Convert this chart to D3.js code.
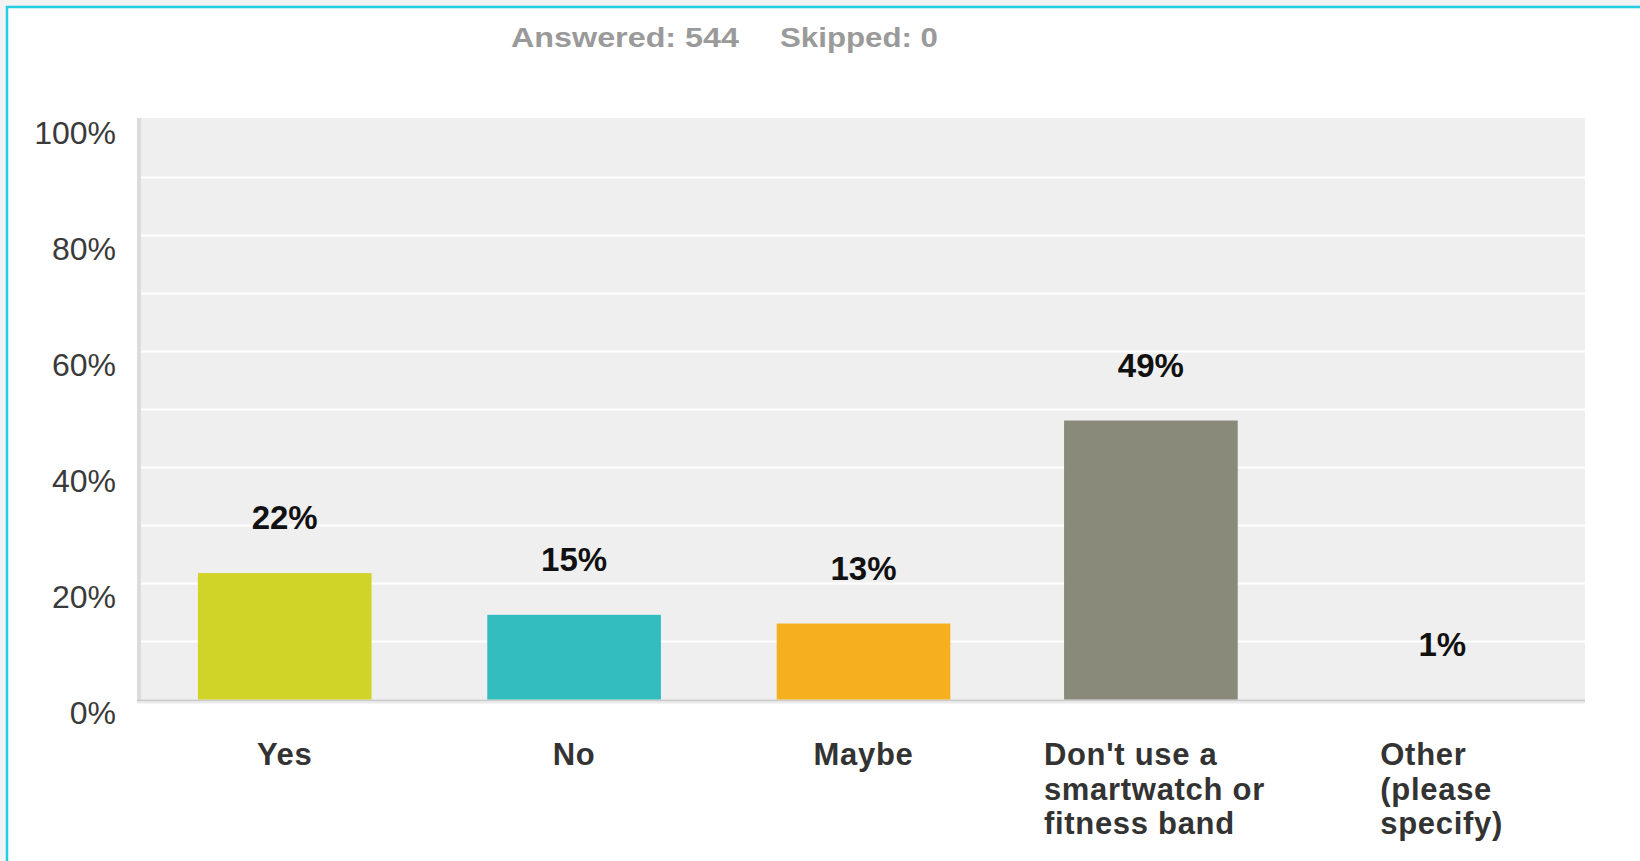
<!DOCTYPE html>
<html>
<head>
<meta charset="utf-8">
<script src="https://cdn.jsdelivr.net/npm/d3@7"></script>
<style>
  html, body { margin: 0; padding: 0; background: #f3f3f3; }
  svg { display: block; }
</style>
</head>
<body>
<svg id="chart" width="1640" height="861"></svg>
<script>
// survey answers
const categories = ["Yes", "No", "Maybe", "Don't use a smartwatch or fitness band", "Other (please specify)"]
const catLines = [["Yes"], ["No"], ["Maybe"], ["Don't use a", "smartwatch or", "fitness band"], ["Other", "(please", "specify)"]]
const values = [21.8, 14.6, 13.1, 48.1, 0]
const valueLabels = ["22%", "15%", "13%", "49%", "1%"]
const barColors = ["#d0d429", "#33bdbf", "#f6af1f", "#8a8a7a", "#b8b8b8"]
const yTicks = [0, 20, 40, 60, 80, 100]
const gridTicks = [10, 20, 30, 40, 50, 60, 70, 80, 90]

const svg = d3.select("#chart")

// white panel with the cyan frame
svg.append("rect")
    .attr("x", 7).attr("y", 7)
    .attr("width", 1640).attr("height", 861)
    .attr("fill", "white")
svg.append("path")
    .attr("d", "M7,861 V7 H1640")
    .attr("fill", "none")
    .attr("stroke", "#22cfe2")
    .attr("stroke-width", 2.5)

// header
const header = svg.append("g")
    .attr("font-family", "Liberation Sans, Arial, sans-serif")
    .attr("font-weight", "bold")
    .attr("font-size", 27)
    .attr("fill", "#9a9a9a")
header.append("text")
    .attr("x", 511).attr("y", 47)
    .attr("textLength", 228).attr("lengthAdjust", "spacingAndGlyphs")
    .text("Answered: 544")
header.append("text")
    .attr("x", 780).attr("y", 47)
    .attr("textLength", 158).attr("lengthAdjust", "spacingAndGlyphs")
    .text("Skipped: 0")

const plot = { left: 138, right: 1585, top: 119, bottom: 699.5 }

var x = d3.scaleBand()
    .domain(categories)
    .range([plot.left + 2, plot.right + 2])
    .paddingInner(0.4)
    .paddingOuter(0.2)

var y = d3.scaleLinear()
    .domain([0, 100])
    .range([plot.bottom, plot.top + 0.5])

// plot background
svg.append("rect")
    .attr("x", plot.left).attr("y", plot.top - 1)
    .attr("width", plot.right - plot.left)
    .attr("height", plot.bottom - plot.top + 1)
    .attr("fill", "#efefef")

// grid lines
svg.append("g")
    .selectAll("line")
    .data(gridTicks)
    .enter()
    .append("line")
        .attr("x1", plot.left).attr("x2", plot.right)
        .attr("y1", d => y(d)).attr("y2", d => y(d))
        .attr("stroke", "white")
        .attr("stroke-width", 2)

// left edge and baseline
svg.append("rect")
    .attr("x", plot.left - 1).attr("y", plot.top - 1)
    .attr("width", 4).attr("height", plot.bottom - plot.top + 3)
    .attr("fill", "#dcdcdc")
svg.append("rect")
    .attr("x", plot.left - 1).attr("y", plot.bottom)
    .attr("width", plot.right - plot.left + 1).attr("height", 2)
    .attr("fill", "#cbcbcb")
svg.append("rect")
    .attr("x", plot.left - 1).attr("y", plot.bottom + 2)
    .attr("width", plot.right - plot.left + 1).attr("height", 2)
    .attr("fill", "#eaeaea")

// y axis, labels sit a little below their grid line
const yAxis = svg.append("g")
    .attr("transform", `translate(${plot.left - 22},0)`)
    .call(d3.axisLeft(y).tickValues(yTicks).tickFormat(d => d + "%").tickSize(0).tickPadding(0))
yAxis.select(".domain").remove()
yAxis.selectAll("text")
    .attr("dy", 24)
    .attr("font-family", "Liberation Sans, Arial, sans-serif")
    .attr("font-size", 32)
    .attr("fill", "#3a3a3a")

// bars (the fourth one sits a touch left in the original)
const nudge = [0, 0, 0, -2, 0]
svg.append("g")
    .selectAll("rect")
    .data(values)
    .enter()
    .append("rect")
        .attr("x", (d, i) => x(categories[i]) + nudge[i])
        .attr("y", d => y(d))
        .attr("width", x.bandwidth())
        .attr("height", d => plot.bottom - y(d))
        .attr("fill", (d, i) => barColors[i])

// value labels
svg.append("g")
    .selectAll("text")
    .data(values)
    .enter()
    .append("text")
        .attr("x", (d, i) => x(categories[i]) + nudge[i] + x.bandwidth() / 2)
        .attr("y", d => y(d) - 44)
        .attr("text-anchor", "middle")
        .attr("font-family", "Liberation Sans, Arial, sans-serif")
        .attr("font-weight", "bold")
        .attr("font-size", 33)
        .attr("fill", "#111")
        .text((d, i) => valueLabels[i])

// category labels: single words centred, wrapped ones left aligned as a block
const catG = svg.append("g")
    .attr("font-family", "Liberation Sans, Arial, sans-serif")
    .attr("font-weight", "bold")
    .attr("font-size", 31)
    .attr("letter-spacing", 0.7)
    .attr("fill", "#333")

catLines.forEach((lines, i) => {
    const cx = x(categories[i]) + x.bandwidth() / 2
    const t = catG.append("text")
        .attr("y", 765)
    if (lines.length == 1) {
        t.attr("x", cx).attr("text-anchor", "middle").text(lines[0])
    } else {
        t.attr("x", i == 3 ? cx - 109 : cx - 62)
        lines.forEach((s, j) => {
            t.append("tspan")
                .attr("x", t.attr("x"))
                .attr("dy", j == 0 ? 0 : 34.5)
                .text(s)
        })
    }
})
</script>
</body>
</html>
